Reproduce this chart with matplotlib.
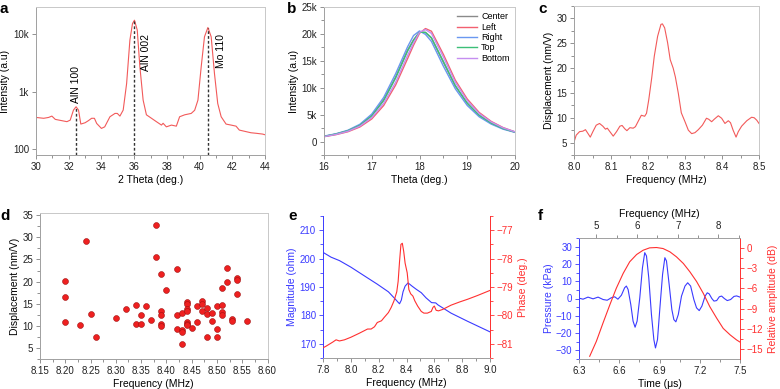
import matplotlib
matplotlib.use("Agg")
import matplotlib.pyplot as plt
from matplotlib.ticker import MultipleLocator, FixedLocator, NullLocator

plt.rcParams['font.family'] = ['Liberation Sans', 'DejaVu Sans']
plt.rcParams['font.size'] = 7
plt.rcParams['axes.linewidth'] = 0.7

### data

# a - XRD
xrd_theta = [30.0, 30.47, 30.77, 30.97, 31.18, 31.89, 32.09, 32.29, 32.45, 32.6, 32.74, 33.0,
             33.2, 33.4, 33.57, 33.71, 34.0, 34.2, 34.52, 34.83, 34.97, 35.13, 35.33, 35.54,
             35.74, 35.9, 36.02, 36.19, 36.35, 36.55, 36.75, 37.06, 37.36, 37.67, 37.77, 37.97,
             38.28, 38.58, 38.78, 39.09, 39.49, 39.7, 39.9, 40.1, 40.3, 40.51, 40.71, 40.91,
             41.11, 41.32, 41.62, 41.93, 42.23, 42.43, 42.84, 43.14, 43.45, 43.85, 44.0]
xrd_int = [360, 348, 360, 380, 333, 304, 323, 483, 552, 483, 276, 291,
           316, 348, 348, 283, 232, 247, 370, 423, 423, 380, 483, 1400,
           7950, 15500, 17700, 11900, 2750, 720, 400, 348, 304, 265, 285, 247,
           265, 254, 370, 400, 423, 480, 720, 2750, 9100, 13200, 9100, 2100,
           630, 370, 276, 265, 254, 217, 204, 195, 191, 185, 180]
peak_pos = [32.43, 36.02, 40.5]
peak_top = [552, 17700, 13200]
peak_names = ['AlN 100', 'AlN 002', 'Mo 110']
peak_label_x = [32.43, 36.75, 41.31]
peak_label_y = [630, 2330, 2570]

# b - rocking curves
rc_theta = [16.0, 16.25, 16.5, 16.75, 17.0, 17.25, 17.5, 17.75, 17.875, 18.0, 18.125,
            18.25, 18.5, 18.75, 19.0, 19.25, 19.5, 19.75, 20.0]
rc_center = [950, 1380, 2000, 3050, 4850, 7800, 12000, 17000, 18900, 20350, 20250,
             19200, 14700, 10300, 7100, 4850, 3400, 2400, 1750]
rc_left = [900, 1280, 1820, 2700, 4200, 6700, 10500, 15400, 17900, 20100, 21000,
           20500, 16200, 11400, 7900, 5400, 3750, 2600, 1800]
rc_right = [1000, 1450, 2100, 3200, 5100, 8200, 12600, 17600, 19700, 20550, 19900,
            18600, 14000, 9800, 6700, 4600, 3250, 2300, 1700]
rc_top = [960, 1400, 2000, 3000, 4750, 7600, 11800, 16800, 18800, 20300, 20300,
          19300, 14900, 10400, 7150, 4900, 3450, 2420, 1760]
rc_bottom = [920, 1320, 1900, 2850, 4450, 7100, 11000, 16000, 18300, 20300, 20800,
             20100, 15700, 11000, 7600, 5200, 3650, 2550, 1800]
rc_names = ['Center', 'Left', 'Right', 'Top', 'Bottom']

# c - displacement spectrum
c_freq = [8.0, 8.006, 8.015, 8.024, 8.031, 8.038, 8.044, 8.051, 8.06, 8.069, 8.078, 8.085,
          8.09, 8.097, 8.106, 8.115, 8.124, 8.13, 8.137, 8.143, 8.151, 8.16, 8.166, 8.175,
          8.182, 8.191, 8.196, 8.202, 8.21, 8.217, 8.226, 8.235, 8.239, 8.245, 8.253, 8.26,
          8.268, 8.274, 8.282, 8.29, 8.3, 8.309, 8.318, 8.327, 8.336, 8.347, 8.358, 8.364,
          8.372, 8.379, 8.39, 8.399, 8.408, 8.417, 8.423, 8.43, 8.438, 8.444, 8.453, 8.467,
          8.48, 8.487, 8.494, 8.5]
c_disp = [5.1, 6.5, 7.2, 7.3, 7.6, 6.8, 6.1, 7.2, 8.5, 8.85, 8.3, 7.7,
          7.9, 7.2, 6.3, 7.2, 8.3, 8.45, 7.8, 7.4, 8.0, 7.9, 8.2, 9.5,
          10.5, 10.3, 10.9, 13.6, 18.0, 22.4, 26.4, 28.8, 28.9, 28.1, 25.1, 21.7,
          20.0, 18.2, 14.9, 11.0, 9.2, 7.5, 6.8, 7.0, 7.6, 8.5, 9.9, 9.7,
          9.2, 9.7, 10.4, 9.9, 8.85, 9.4, 9.0, 7.5, 6.1, 7.2, 8.3, 9.4,
          10.1, 10.0, 9.5, 8.85]

# d - scatter of resonances
d_freq = [8.20, 8.20, 8.20, 8.23, 8.24, 8.25, 8.26, 8.30, 8.32, 8.34, 8.34, 8.35, 8.35,
          8.36, 8.37, 8.38, 8.38, 8.39, 8.39, 8.39, 8.39, 8.39, 8.40, 8.42, 8.42, 8.42,
          8.43, 8.43, 8.43, 8.43, 8.44, 8.44, 8.44, 8.44, 8.44, 8.44, 8.44, 8.45, 8.46,
          8.46, 8.47, 8.47, 8.47, 8.48, 8.48, 8.48, 8.49, 8.49, 8.50, 8.50, 8.50, 8.51,
          8.51, 8.51, 8.51, 8.52, 8.52, 8.53, 8.53, 8.54, 8.54, 8.54, 8.56]
d_disp = [20.1, 16.5, 10.8, 10.1, 29.1, 12.6, 7.5, 11.7, 13.7, 14.7, 10.4, 12.4, 10.4,
          14.5, 11.3, 32.8, 25.5, 21.6, 13.3, 12.4, 10.4, 9.9, 18.2, 22.9, 12.5, 9.3,
          12.9, 9.0, 8.7, 6.0, 15.3, 14.9, 13.8, 13.4, 10.9, 10.4, 10.1, 9.6, 14.5,
          10.8, 15.7, 14.9, 13.4, 14.0, 12.7, 7.4, 12.8, 11.0, 14.5, 9.2, 7.5, 18.5,
          14.8, 13.1, 12.5, 23.1, 19.8, 11.6, 11.2, 20.7, 20.4, 17.3, 11.0]

# e - impedance
e_freq_mag = [7.8, 7.858, 7.918, 8.0, 8.12, 8.19, 8.27, 8.32, 8.34, 8.35, 8.363, 8.375,
              8.39, 8.41, 8.42, 8.44, 8.47, 8.506, 8.54, 8.58, 8.61, 8.626, 8.72, 8.84, 9.0]
e_mag = [202.2, 200.5, 199.3, 197.0, 193.2, 191.0, 188.3, 185.7, 184.6, 184.1, 185.4, 188.3,
         190.3, 191.4, 191.1, 190.3, 189.2, 188.0, 186.2, 184.5, 184.4, 183.7, 180.8, 177.9, 174.2]
e_freq_ph = [7.8, 7.82, 7.87, 7.894, 7.918, 7.954, 8.0, 8.06, 8.12, 8.146, 8.17, 8.19, 8.22,
             8.24, 8.27, 8.29, 8.31, 8.33, 8.34, 8.35, 8.36, 8.37, 8.38, 8.39, 8.405, 8.417,
             8.43, 8.446, 8.46, 8.48, 8.506, 8.525, 8.55, 8.578, 8.59, 8.6, 8.613, 8.63,
             8.66, 8.72, 8.78, 8.84, 8.91, 9.0]
e_phase = [-81.14, -81.09, -80.94, -80.86, -80.9, -80.86, -80.77, -80.63, -80.48, -80.48,
           -80.4, -80.25, -80.19, -80.07, -79.9, -79.72, -79.49, -79.17, -78.8, -78.1, -77.5,
           -77.46, -77.75, -78.16, -78.5, -79.09, -79.24, -79.32, -79.49, -79.67, -79.86,
           -79.92, -79.92, -79.86, -79.72, -79.67, -79.82, -79.84, -79.79, -79.64, -79.53,
           -79.43, -79.3, -79.12]

# f - pulse and spectrum
f_time = [6.3, 6.33, 6.367, 6.405, 6.442, 6.48, 6.51, 6.54, 6.566, 6.59, 6.616, 6.64, 6.653,
          6.666, 6.686, 6.703, 6.718, 6.733, 6.753, 6.773, 6.79, 6.803, 6.82, 6.84, 6.858,
          6.87, 6.885, 6.903, 6.923, 6.94, 6.952, 6.972, 6.992, 7.007, 7.022, 7.04, 7.064,
          7.09, 7.11, 7.132, 7.156, 7.176, 7.196, 7.216, 7.24, 7.256, 7.27, 7.29, 7.306,
          7.326, 7.346, 7.363, 7.383, 7.405, 7.43, 7.455, 7.475, 7.5]
f_pressure = [0.2, -0.4, 0.8, -0.2, 0.8, -0.6, -1.0, 0.4, 1.0, -0.4, 1.9, 6.2, 7.2,
              5.2, -3.5, -13.1, -16.6, -13.1, 0.4, 17.8, 26.5, 24.6, 12.0, -9.3, -23.8,
              -28.6, -23.8, -5.4, 14.0, 23.6, 21.7, 8.1, -6.4, -12.2, -13.5, -9.3, 1.4,
              7.2, 9.1, 7.2, -0.6, -5.4, -7.0, -4.4, 1.4, 3.3, 2.7, 0.0, -1.5,
              -1.2, 1.0, 1.4, 0.0, -1.2, -0.6, 1.2, 1.5, 0.8]
f_freq = [4.836, 5.0, 5.164, 5.33, 5.49, 5.66, 5.82, 5.99, 6.15, 6.31, 6.48, 6.64, 6.81,
          6.97, 7.14, 7.3, 7.465, 7.63, 7.79, 7.96, 8.12, 8.29, 8.45, 8.53]
f_db = [-16.0, -13.8, -11.1, -8.45, -6.0, -3.8, -2.1, -1.03, -0.4, -0.05, 0.0, -0.15, -0.64,
        -1.37, -2.35, -3.57, -5.0, -6.74, -8.7, -10.4, -11.9, -12.85, -13.6, -13.9]

### layout helpers
W, H = 780, 389
def box(l, t, r, b):
    return [l / W, 1 - b / H, (r - l) / W, (b - t) / H]

spine_col = '#a0a0a0'
tick_col = '#808080'
BLUE = '#3a3aff'
RED = '#ff3030'
LINE_RED = '#f25a5a'

def style(ax, hide_top=False):
    for s in ax.spines.values():
        s.set_color(spine_col)
        s.set_linewidth(0.7)
    ax.spines['top'].set_color('#c8c8c8')
    ax.spines['right'].set_color('#c8c8c8')
    if hide_top:
        ax.spines['top'].set_visible(False)
    ax.tick_params(which='both', direction='out', color=tick_col, labelsize=7,
                   labelcolor='#222222', width=0.6, top=False, right=False)
    ax.tick_params(which='major', length=3, pad=2)
    ax.tick_params(which='minor', length=2)

fig = plt.figure(figsize=(7.8, 3.89), dpi=100)

# ---- a
ax = fig.add_axes(box(36, 7, 265, 155))
ax.semilogy(xrd_theta, xrd_int, color=LINE_RED, lw=0.8)
ax.vlines(peak_pos, 80, peak_top, colors='#333333', linestyles=(0, (2, 1.5)), lw=1)
for x, y, t in zip(peak_label_x, peak_label_y, peak_names):
    ax.text(x, y, t, rotation=90, ha='center', va='bottom', fontsize=7.5)
ax.set_xlim(30, 44)
ax.set_ylim(80, 30000)
ax.xaxis.set_major_locator(MultipleLocator(2))
ax.xaxis.set_minor_locator(MultipleLocator(1))
ax.yaxis.set_major_locator(FixedLocator([100, 1000, 10000]))
ax.yaxis.set_minor_locator(NullLocator())
ax.set_yticklabels(['100', '1k', '10k'])
ax.set_xlabel('2 Theta (deg.)', fontsize=7.5, labelpad=2)
ax.set_ylabel('Intensity (a.u)', fontsize=7.5, labelpad=2)
style(ax)

# ---- b
ax = fig.add_axes(box(324, 7, 515, 155))
rc_cols = ['#8a8a8a', '#f26070', '#6a98f0', '#3cbf78', '#c58ef0']
for ys, col, name in zip([rc_center, rc_left, rc_right, rc_top, rc_bottom], rc_cols, rc_names):
    ax.plot(rc_theta, ys, color=col, lw=1.0, label=name)
ax.set_xlim(16, 20)
ax.set_ylim(-2500, 25000)
ax.xaxis.set_major_locator(MultipleLocator(1))
ax.xaxis.set_minor_locator(MultipleLocator(0.5))
ax.yaxis.set_major_locator(MultipleLocator(5000))
ax.yaxis.set_minor_locator(MultipleLocator(2500))
ax.set_yticks([0, 5000, 10000, 15000, 20000, 25000])
ax.set_yticklabels(['0', '5k', '10k', '15k', '20k', '25k'])
ax.set_xlabel('Theta (deg.)', fontsize=7.5, labelpad=2)
ax.set_ylabel('Intensity (a.u)', fontsize=7.5, labelpad=2)
ax.legend(loc='upper right', frameon=False, fontsize=6.5, handlelength=2.2,
          labelspacing=0.15, handletextpad=0.5, borderaxespad=0.2)
style(ax)

# ---- c
ax = fig.add_axes(box(574, 6, 759, 155))
ax.plot(c_freq, c_disp, color=LINE_RED, lw=0.8)
ax.set_xlim(8.0, 8.5)
ax.set_ylim(2.5, 32.5)
ax.xaxis.set_major_locator(MultipleLocator(0.1))
ax.xaxis.set_minor_locator(MultipleLocator(0.05))
ax.yaxis.set_major_locator(MultipleLocator(5))
ax.yaxis.set_minor_locator(MultipleLocator(2.5))
ax.set_xlabel('Frequency (MHz)', fontsize=7.5, labelpad=2)
ax.set_ylabel('Displacement (nm/V)', fontsize=7.5, labelpad=2)
style(ax)

# ---- d
ax = fig.add_axes(box(40, 213, 267.5, 359))
ax.scatter(d_freq, d_disp, s=18, color='#ee2020', edgecolors='#a01010', linewidths=0.4, zorder=3)
ax.set_xlim(8.15, 8.60)
ax.set_ylim(2.5, 35.5)
ax.set_xticks([8.15, 8.20, 8.25, 8.30, 8.35, 8.40, 8.45, 8.50, 8.55, 8.60])
ax.set_xticklabels(['8.15', '8.20', '8.25', '8.30', '8.35', '8.40', '8.45', '8.50', '8.55', '8.60'])
ax.xaxis.set_minor_locator(MultipleLocator(0.025))
ax.yaxis.set_major_locator(MultipleLocator(5))
ax.yaxis.set_minor_locator(MultipleLocator(2.5))
ax.set_xlabel('Frequency (MHz)', fontsize=7.5, labelpad=2)
ax.set_ylabel('Displacement (nm/V)', fontsize=7.5, labelpad=2)
style(ax)

# ---- e
ax = fig.add_axes(box(323, 216, 490, 358))
ax.plot(e_freq_mag, e_mag, color=BLUE, lw=0.8)
ax.set_xlim(7.8, 9.0)
ax.set_ylim(165, 215)
ax.set_xticks([7.8, 8.0, 8.2, 8.4, 8.6, 8.8, 9.0])
ax.set_xticklabels(['7.8', '8.0', '8.2', '8.4', '8.6', '8.8', '9.0'])
ax.xaxis.set_minor_locator(MultipleLocator(0.1))
ax.yaxis.set_major_locator(MultipleLocator(10))
ax.yaxis.set_minor_locator(MultipleLocator(5))
ax.set_xlabel('Frequency (MHz)', fontsize=7.5, labelpad=2)
ax.set_ylabel('Magnitude (ohm)', fontsize=7.5, labelpad=2, color=BLUE)
style(ax, hide_top=True)
ax.spines['left'].set_color(BLUE)
ax.tick_params(axis='y', which='both', color=BLUE, labelcolor=BLUE)
ax2 = ax.twinx()
ax2.plot(e_freq_ph, e_phase, color=RED, lw=0.8)
ax2.set_ylim(-81.5, -76.5)
ax2.yaxis.set_major_locator(MultipleLocator(1))
ax2.yaxis.set_minor_locator(MultipleLocator(0.5))
ax2.set_yticklabels([])
ax2.set_ylabel('Phase (deg.)', fontsize=7.5, labelpad=3, color=RED)
style(ax2, hide_top=True)
ax2.tick_params(axis='y', which='both', right=True, left=False, labelright=True, labelleft=False,
                color=RED, labelcolor=RED)
ax2.yaxis.set_major_formatter(plt.FuncFormatter(lambda v, p: f'\u2212{abs(v):.0f}'))
ax2.spines['right'].set_color(RED)
ax2.spines['left'].set_visible(False)

# ---- f
rect_f = box(579, 238, 740, 359)
ax = fig.add_axes(rect_f)
ax.plot(f_time, f_pressure, color=BLUE, lw=0.8, zorder=3)
ax.set_xlim(6.3, 7.5)
ax.set_ylim(-35, 35)
ax.set_xticks([6.3, 6.6, 6.9, 7.2, 7.5])
ax.set_xticklabels(['6.3', '6.6', '6.9', '7.2', '7.5'])
ax.xaxis.set_minor_locator(MultipleLocator(0.15))
ax.yaxis.set_major_locator(MultipleLocator(10))
ax.yaxis.set_minor_locator(MultipleLocator(5))
ax.yaxis.set_major_formatter(plt.FuncFormatter(lambda v, p: f'{v:.0f}'.replace('-', '\u2212')))
ax.set_xlabel('Time (\u03bcs)', fontsize=7.5, labelpad=2)
ax.set_ylabel('Pressure (kPa)', fontsize=7.5, labelpad=1, color=BLUE)
style(ax)
ax.spines['top'].set_visible(False)
ax.spines['right'].set_visible(False)
ax.spines['left'].set_color(BLUE)
ax.tick_params(axis='y', which='both', color=BLUE, labelcolor=BLUE)

axf = fig.add_axes(rect_f, label='spectrum')
axf.patch.set_visible(False)
axf.plot(f_freq, f_db, color=RED, lw=0.8)
axf.set_xlim(4.573, 8.533)
axf.set_ylim(-16.4, 1.4)
axf.xaxis.set_major_locator(MultipleLocator(1))
axf.xaxis.set_minor_locator(MultipleLocator(0.5))
axf.yaxis.set_major_locator(MultipleLocator(3))
axf.yaxis.set_minor_locator(MultipleLocator(1.5))
axf.yaxis.set_major_formatter(plt.FuncFormatter(lambda v, p: f'{v:.0f}'.replace('-', '\u2212')))
style(axf)
axf.xaxis.tick_top()
axf.yaxis.tick_right()
axf.xaxis.set_label_position('top')
axf.yaxis.set_label_position('right')
axf.spines['left'].set_visible(False)
axf.spines['bottom'].set_visible(False)
axf.spines['top'].set_color(spine_col)
axf.spines['right'].set_color(RED)
axf.tick_params(axis='x', which='both', top=True, bottom=False, labeltop=True, labelbottom=False)
axf.tick_params(axis='y', which='both', right=True, left=False, labelright=True, labelleft=False,
                color=RED, labelcolor=RED)
axf.set_xlabel('Frequency (MHz)', fontsize=7.5, labelpad=3)
axf.set_ylabel('Relative amplitude (dB)', fontsize=7.5, labelpad=3, color=RED)

# panel letters
for x, y, t in [(0, 2, 'a'), (287, 2, 'b'), (538, 2, 'c'),
                (0, 209, 'd'), (288, 209, 'e'), (538, 209, 'f')]:
    fig.text(x / W, 1 - y / H, t, fontsize=11, fontweight='bold', ha='left', va='top')

fig.savefig('out.png', dpi=100)
